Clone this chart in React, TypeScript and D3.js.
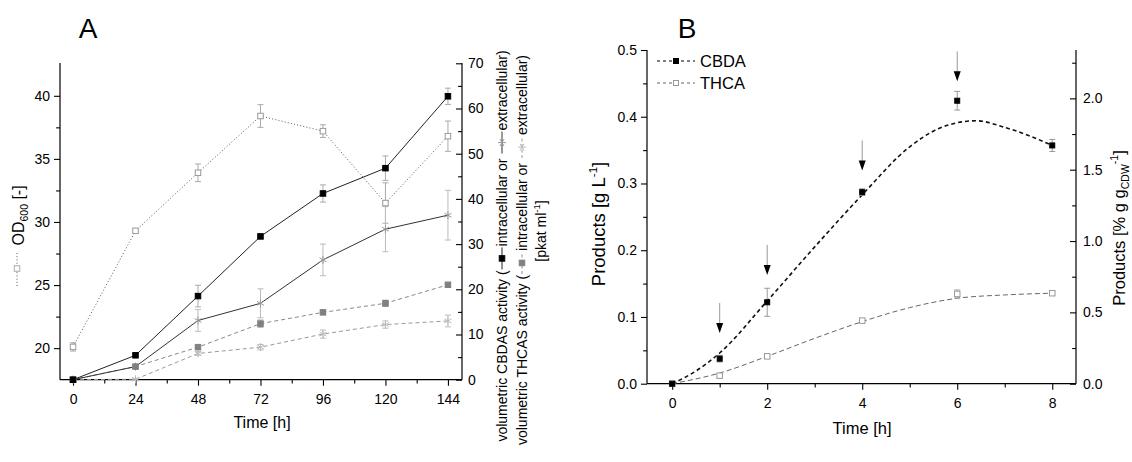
import { useRef, useEffect } from 'react'
import * as d3 from 'd3'

const FONT = 'Arial, "Liberation Sans", sans-serif'

// panel A: time course (h)
const hoursA = [0, 24, 48, 72, 96, 120, 144]
const od600 = [20.1, 29.3, 33.9, 38.4, 37.2, 31.5, 36.8]
const od600Err = [0.33, 0.15, 0.7, 0.9, 0.5, 1.6, 1.2]
const cbdasIntra = [0, 5.4, 18.5, 31.7, 41.2, 46.8, 62.7]
const cbdasIntraErr = [0, 0.4, 2.4, 0.5, 1.9, 2.7, 1.8]
const cbdasExtra = [0, 2.9, 13.1, 16.9, 26.5, 33.3, 36.4]
const cbdasExtraErr = [0, 0.3, 2.4, 3.2, 3.5, 5.0, 5.5]
const thcasIntra = [0, 2.9, 7.2, 12.4, 14.9, 16.9, 21.0]
const thcasIntraErr = [0, 0.2, 0.5, 0.8, 0.4, 0.7, 0.3]
const thcasExtra = [0, 0.1, 5.8, 7.2, 10.1, 12.2, 13.0]
const thcasExtraErr = [0, 0.1, 0.4, 0.6, 0.9, 0.8, 1.3]
const ticksA = [0, 24, 48, 72, 96, 120, 144]
const ticksOD = [20, 25, 30, 35, 40]
const ticksAct = [0, 10, 20, 30, 40, 50, 60, 70]

// panel B: products (h)
const hoursB = [0, 1, 2, 4, 6, 8]
const cbda = [0, 0.0375, 0.122, 0.287, 0.424, 0.357]
const cbdaErr = [0, 0.005, 0.021, 0.005, 0.014, 0.009]
const thca = [0, 0.012, 0.041, 0.0945, 0.1345, 0.1356]
const thcaErr = [0, 0.002, 0.002, 0.003, 0.006, 0.002]
const cbdaFitX = [0, 0.5, 1, 2, 3, 4, 5, 5.6, 6, 6.4, 7, 7.5, 8]
const cbdaFitY = [0, 0.019, 0.046, 0.124, 0.205, 0.283, 0.355, 0.382, 0.391, 0.394, 0.384, 0.372, 0.357]
const thcaFitX = [0, 1, 2, 3, 4, 5, 6, 7, 8]
const thcaFitY = [0, 0.016, 0.041, 0.068, 0.093, 0.114, 0.128, 0.133, 0.1356]
const arrowX = [1, 2, 4, 6]
const arrowTip = [0.076, 0.163, 0.3195, 0.453]
const ticksB = [0, 2, 4, 6, 8]
const ticksProd = [0, 0.1, 0.2, 0.3, 0.4, 0.5]
const ticksPct = [0, 0.5, 1.0, 1.5, 2.0]

const starPath = (r) => {
  let p = ''
  for (let k = 0; k < 3; k++) {
    const a = Math.PI / 2 + (k * Math.PI) / 3
    p += `M${r * Math.cos(a)},${r * Math.sin(a)}L${-r * Math.cos(a)},${-r * Math.sin(a)}`
  }
  return p
}

const App = () => {
  const svgRef = useRef<SVGSVGElement>(null)

  useEffect(() => {
    const svg = d3.select(svgRef.current)
    svg.selectAll('*').remove()

    const styleAxis = (g) => {
      g.select('.domain').remove()
      g.selectAll('line').attr('stroke', '#000').attr('stroke-width', 1.1)
      g.selectAll('text').attr('font-family', FONT).attr('font-size', 14).attr('fill', '#000')
    }

    const axis = (fn, scale, majors, minors, transform, size, fmt, pad) => {
      const gMin = svg.append('g').attr('transform', transform)
      gMin.call(fn(scale).tickValues(minors).tickSize(size * 0.65).tickSizeOuter(0).tickFormat(() => ''))
      styleAxis(gMin)
      const gMaj = svg.append('g').attr('transform', transform)
      gMaj.call(fn(scale).tickValues(majors).tickSize(size).tickSizeOuter(0).tickPadding(pad).tickFormat(fmt))
      styleAxis(gMaj)
    }

    const errorBars = (g, xs, ys, es, x, y, color) => {
      xs.forEach((xv, i) => {
        if (!es[i]) return
        const cx = x(xv)
        const y0 = y(ys[i] - es[i])
        const y1 = y(ys[i] + es[i])
        g.append('line').attr('x1', cx).attr('x2', cx).attr('y1', y0).attr('y2', y1).attr('stroke', color).attr('stroke-width', 1)
        ;[y0, y1].forEach((yy) =>
          g.append('line').attr('x1', cx - 3).attr('x2', cx + 3).attr('y1', yy).attr('y2', yy).attr('stroke', color).attr('stroke-width', 1)
        )
      })
    }

    const lineOf = (g, xs, ys, x, y, color, dash, width = 1, curve = d3.curveLinear) => {
      g.append('path')
        .attr('d', d3.line().x((d) => x(d[0])).y((d) => y(d[1])).curve(curve)(xs.map((v, i) => [v, ys[i]])))
        .attr('fill', 'none')
        .attr('stroke', color)
        .attr('stroke-width', width)
        .attr('stroke-dasharray', dash)
    }

    const squares = (g, xs, ys, x, y, fill, stroke, s) => {
      xs.forEach((xv, i) => {
        g.append('rect')
          .attr('x', x(xv) - s / 2)
          .attr('y', y(ys[i]) - s / 2)
          .attr('width', s)
          .attr('height', s)
          .attr('fill', fill)
          .attr('stroke', stroke)
          .attr('stroke-width', 1)
      })
    }

    const stars = (g, xs, ys, x, y, color) => {
      xs.forEach((xv, i) => {
        g.append('path').attr('d', starPath(4)).attr('transform', `translate(${x(xv)},${y(ys[i])})`).attr('stroke', color).attr('stroke-width', 1).attr('fill', 'none')
      })
    }

    // rotated label built from text pieces and legend glyphs
    const richLabel = (xBase, yPos, pieces, anchor) => {
      const g = svg.append('g')
      let pos = 0
      pieces.forEach((p) => {
        if (p.glyph) {
          const gg = g.append('g').attr('transform', `translate(${pos},${p.dy ?? -5})`)
          p.glyph(gg, p.w)
          pos += p.w
        } else {
          const t = g
            .append('text')
            .attr('x', pos)
            .attr('y', p.dy ?? 0)
            .attr('font-family', FONT)
            .attr('font-size', p.size)
            .attr('fill', '#000')
            .style('white-space', 'pre')
            .text(p.t)
          pos += (t.node() as SVGTextElement).getComputedTextLength()
        }
      })
      const start = anchor === 'start' ? yPos : yPos + pos / 2
      g.attr('transform', `translate(${xBase},${start}) rotate(-90)`)
    }

    const glyph = (color, dash, marker) => (gg, w) => {
      gg.append('line').attr('x1', 1).attr('x2', w - 1).attr('y1', 0).attr('y2', 0).attr('stroke', color).attr('stroke-width', 1).attr('stroke-dasharray', dash)
      marker(gg.append('g').attr('transform', `translate(${w / 2},0)`))
    }
    const sqMark = (fill, stroke) => (m) =>
      m.append('rect').attr('x', -2.75).attr('y', -2.75).attr('width', 5.5).attr('height', 5.5).attr('fill', fill).attr('stroke', stroke)
    const starMark = (color) => (m) => m.append('path').attr('d', starPath(4)).attr('stroke', color).attr('fill', 'none')

    // ---------------- panel A ----------------
    const xA = d3.scaleLinear().domain([-5, 149.4]).range([60, 462])
    const yOD = d3.scaleLinear().domain([17.5, 42.6]).range([379.7, 63])
    const yAct = d3.scaleLinear().domain([0, 70]).range([379.7, 63.3])

    svg.append('line').attr('x1', 60).attr('x2', 60).attr('y1', 63).attr('y2', 379.7).attr('stroke', '#000').attr('stroke-width', 1.2)
    svg.append('line').attr('x1', 462).attr('x2', 462).attr('y1', 63).attr('y2', 379.7).attr('stroke', '#000').attr('stroke-width', 1.2)
    svg.append('line').attr('x1', 60).attr('x2', 462).attr('y1', 379.7).attr('y2', 379.7).attr('stroke', '#000').attr('stroke-width', 1.2)

    axis(d3.axisLeft, yOD, ticksOD, [22.5, 27.5, 32.5, 37.5], 'translate(60,0)', 6, d3.format('d'), 4)
    axis(d3.axisRight, yAct, ticksAct, d3.range(5, 70, 10), 'translate(462,0)', -6, d3.format('d'), 6)
    axis(d3.axisBottom, xA, ticksA, d3.range(12, 144, 24), 'translate(0,379.7)', 6, d3.format('d'), 8)

    const gA = svg.append('g')
    lineOf(gA, hoursA, od600, xA, yOD, '#555', '1,2.2')
    lineOf(gA, hoursA, thcasExtra, xA, yAct, '#999', '4,3')
    lineOf(gA, hoursA, thcasIntra, xA, yAct, '#888', '4,3')
    lineOf(gA, hoursA, cbdasExtra, xA, yAct, '#333', null)
    lineOf(gA, hoursA, cbdasIntra, xA, yAct, '#222', null)
    errorBars(gA, hoursA, od600, od600Err, xA, yOD, '#aaa')
    errorBars(gA, hoursA, thcasExtra, thcasExtraErr, xA, yAct, '#bbb')
    errorBars(gA, hoursA, thcasIntra, thcasIntraErr, xA, yAct, '#aaa')
    errorBars(gA, hoursA, cbdasExtra, cbdasExtraErr, xA, yAct, '#bbb')
    errorBars(gA, hoursA, cbdasIntra, cbdasIntraErr, xA, yAct, '#aaa')
    squares(gA, hoursA, od600, xA, yOD, '#fff', '#999', 5.5)
    stars(gA, hoursA, thcasExtra, xA, yAct, '#bbb')
    stars(gA, hoursA, cbdasExtra, xA, yAct, '#999')
    squares(gA, hoursA, thcasIntra, xA, yAct, '#808080', '#808080', 5.5)
    squares(gA, hoursA, cbdasIntra, xA, yAct, '#000', '#000', 5.5)

    svg.append('text').attr('x', 88).attr('y', 38).attr('text-anchor', 'middle').attr('font-family', FONT).attr('font-size', 28).text('A')
    svg.append('text').attr('x', 262).attr('y', 428).attr('text-anchor', 'middle').attr('font-family', FONT).attr('font-size', 16).text('Time [h]')

    richLabel(23.5, 287, [
      { glyph: glyph('#555', '1,2.2', sqMark('#fff', '#aaa')), w: 37, dy: -6.5 },
      { t: ' ', size: 16 },
      { t: 'OD', size: 16 },
      { t: '600', size: 10.5, dy: 4 },
      { t: ' [-]', size: 16 },
    ], 'start')

    richLabel(507, 246, [
      { t: 'volumetric CBDAS activity (', size: 14 },
      { glyph: glyph('#222', null, sqMark('#000', '#000')), w: 24 },
      { t: 'intracellular or ', size: 14 },
      { glyph: glyph('#333', null, starMark('#999')), w: 24 },
      { t: 'extracellular)', size: 14 },
    ], 'middle')
    richLabel(527, 250, [
      { t: 'volumetric THCAS activity (', size: 14 },
      { glyph: glyph('#888', '3,2.5', sqMark('#808080', '#808080')), w: 24 },
      { t: 'intracellular or ', size: 14 },
      { glyph: glyph('#999', '3,2.5', starMark('#bbb')), w: 24 },
      { t: 'extracellular)', size: 14 },
    ], 'middle')
    richLabel(546, 231, [
      { t: '[pkat ml', size: 14 },
      { t: '-1', size: 9.5, dy: -6 },
      { t: ']', size: 14 },
    ], 'middle')

    // ---------------- panel B ----------------
    const xB = d3.scaleLinear().domain([-0.53, 8.5]).range([647, 1076])
    const yB = d3.scaleLinear().domain([0, 0.5]).range([383.7, 50])
    const yB2 = d3.scaleLinear().domain([0, 2.339]).range([383.7, 50])

    svg.append('line').attr('x1', 647).attr('x2', 647).attr('y1', 50).attr('y2', 383.7).attr('stroke', '#000').attr('stroke-width', 1.2)
    svg.append('line').attr('x1', 1076).attr('x2', 1076).attr('y1', 50).attr('y2', 383.7).attr('stroke', '#000').attr('stroke-width', 1.2)
    svg.append('line').attr('x1', 647).attr('x2', 1076).attr('y1', 383.7).attr('y2', 383.7).attr('stroke', '#000').attr('stroke-width', 1.2)

    axis(d3.axisLeft, yB, ticksProd, d3.range(0.05, 0.5, 0.1), 'translate(647,0)', 6, d3.format('.1f'), 4)
    axis(d3.axisRight, yB2, ticksPct, d3.range(0.25, 2.3, 0.5), 'translate(1076,0)', -6, d3.format('.1f'), 7)
    axis(d3.axisBottom, xB, ticksB, [1, 3, 5, 7], 'translate(0,383.7)', 6, d3.format('d'), 8)

    const gB = svg.append('g')
    lineOf(gB, thcaFitX, thcaFitY, xB, yB, '#666', '5,3', 1, d3.curveMonotoneX)
    lineOf(gB, cbdaFitX, cbdaFitY, xB, yB, '#111', '4,3', 1.6, d3.curveMonotoneX)
    errorBars(gB, hoursB, thca, thcaErr, xB, yB, '#aaa')
    errorBars(gB, hoursB, cbda, cbdaErr, xB, yB, '#999')
    squares(gB, hoursB, thca, xB, yB, '#fff', '#999', 5.5)
    squares(gB, hoursB, cbda, xB, yB, '#000', '#000', 5)

    arrowX.forEach((xv, i) => {
      const cx = xB(xv)
      const tip = yB(arrowTip[i])
      gB.append('line').attr('x1', cx).attr('x2', cx).attr('y1', tip - 30).attr('y2', tip - 8).attr('stroke', '#999').attr('stroke-width', 1)
      gB.append('path').attr('d', `M${cx - 3.5},${tip - 10}L${cx + 3.5},${tip - 10}L${cx},${tip}Z`).attr('fill', '#000')
    })

    // legend
    const legend = [
      { name: 'CBDA', y: 61, color: '#000', fill: '#000', stroke: '#000' },
      { name: 'THCA', y: 83, color: '#666', fill: '#fff', stroke: '#999' },
    ]
    legend.forEach((d) => {
      svg.append('line').attr('x1', 657).attr('x2', 695).attr('y1', d.y).attr('y2', d.y).attr('stroke', d.color).attr('stroke-dasharray', '3,3').attr('stroke-width', 1)
      svg.append('rect').attr('x', 673.5).attr('y', d.y - 2.5).attr('width', 5).attr('height', 5).attr('fill', d.fill).attr('stroke', d.stroke)
      svg.append('text').attr('x', 700).attr('y', d.y + 6).attr('font-family', FONT).attr('font-size', 16.5).text(d.name)
    })

    svg.append('text').attr('x', 687).attr('y', 38).attr('text-anchor', 'middle').attr('font-family', FONT).attr('font-size', 28).text('B')
    svg.append('text').attr('x', 862).attr('y', 434).attr('text-anchor', 'middle').attr('font-family', FONT).attr('font-size', 16.5).text('Time [h]')

    richLabel(605, 224, [
      { t: 'Products [g L', size: 18.5 },
      { t: '-1', size: 11.5, dy: -8 },
      { t: ']', size: 18.5 },
    ], 'middle')
    richLabel(1125, 228, [
      { t: 'Products [% g g', size: 16.5 },
      { t: 'CDW', size: 10.5, dy: 4 },
      { t: '-1', size: 10.5, dy: -7 },
      { t: ']', size: 16.5 },
    ], 'middle')
  }, [])

  return (
    <svg ref={svgRef} width={1132} height={462} style={{ position: 'absolute', left: 0, top: 0, background: '#fff' }}></svg>
  )
}

export default App
